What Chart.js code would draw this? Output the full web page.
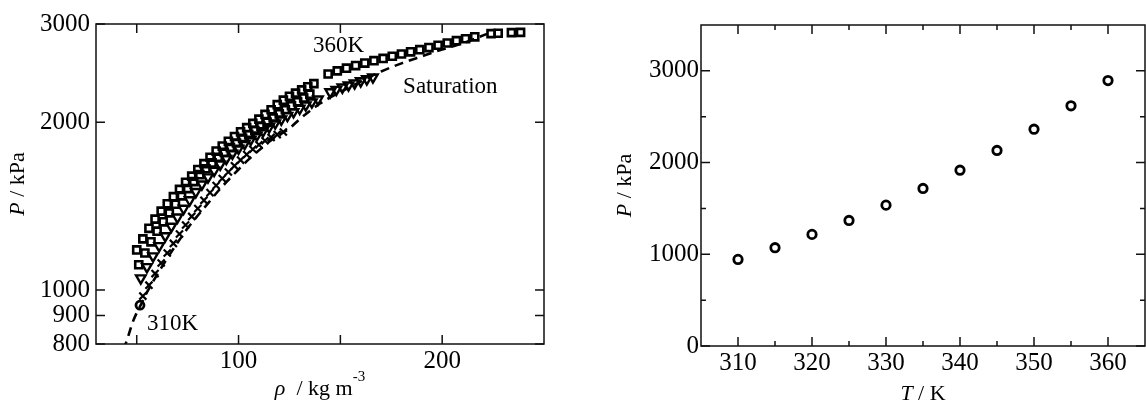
<!DOCTYPE html>
<html>
<head>
<meta charset="utf-8">
<script src="https://cdn.jsdelivr.net/npm/chart.js@4.4.1/dist/chart.umd.min.js"></script>
<style>
    html, body { margin: 0; padding: 0; background: #fff; overflow: hidden; }
    #wrap { position: relative; width: 1146px; height: 409px; }
    #left { position: absolute; left: 0; top: 0; width: 560px; height: 409px; }
    #right { position: absolute; left: 580px; top: 0; width: 566px; height: 409px; }
</style>
</head>
<body>
<div id="wrap">
    <div id="left"><canvas id="chart-rho"></canvas></div>
    <div id="right"><canvas id="chart-temp"></canvas></div>
</div>
<script>
// ---- left panel: P vs rho (kg m-3, kPa) ----
var sqRho1 = [50, 53, 56, 59, 62, 65, 68, 71, 74, 77, 80, 83, 86, 89, 92, 95, 98, 101, 104, 107, 110, 113, 116, 119, 122, 125, 128, 131, 134, 137];
var sqP1 = [1180, 1235, 1290, 1340, 1385, 1428, 1470, 1515, 1560, 1600, 1645, 1685, 1730, 1775, 1812, 1848, 1885, 1922, 1955, 1990, 2025, 2065, 2105, 2150, 2190, 2225, 2255, 2285, 2315, 2345];

var sqRho2 = [51, 54, 57, 60, 63, 66, 69, 72, 75, 78, 81, 84, 87, 90, 93, 96, 99, 102, 105, 108, 111, 114, 117, 120, 123, 126, 129, 132, 135];
var sqP2 = [1110, 1165, 1220, 1275, 1325, 1375, 1425, 1475, 1520, 1565, 1610, 1650, 1690, 1730, 1765, 1800, 1835, 1870, 1900, 1932, 1965, 2000, 2035, 2070, 2105, 2140, 2175, 2210, 2245];

var sqRho3 = [144, 148.5, 153, 157.5, 162, 166.5, 171, 175.5, 180, 184.5, 189, 193.5, 198, 202.5, 207, 211.5, 216, 224, 227.5, 234, 238.5];
var sqP3 = [2440, 2472, 2500, 2527, 2553, 2578, 2602, 2626, 2650, 2674, 2698, 2722, 2748, 2774, 2800, 2823, 2845, 2883, 2888, 2895, 2898];

var triRho = [52, 55, 58, 61, 64, 67, 70, 73, 76, 79, 82, 85, 88, 91, 94, 97, 100, 103, 106, 109, 112, 115, 118, 121, 124, 127, 130, 133, 136, 139,
              145, 148, 151, 154, 157, 160, 163, 166];
var triP = [1050, 1100, 1150, 1200, 1250, 1300, 1350, 1400, 1450, 1500, 1548, 1594, 1638, 1680, 1720, 1758, 1795, 1830, 1862, 1895, 1928, 1960, 1992, 2024, 2055, 2086, 2116, 2145, 2172, 2198,
            2265, 2288, 2310, 2330, 2350, 2370, 2390, 2408];

var crsRho = [53, 56, 59, 62, 65, 68, 71, 74, 77, 80, 83, 86, 89, 92, 95, 98, 101, 104, 107, 110, 113, 116, 119, 122];
var crsP = [975, 1020, 1070, 1118, 1165, 1212, 1260, 1308, 1355, 1400, 1448, 1495, 1540, 1585, 1628, 1670, 1710, 1750, 1788, 1822, 1852, 1878, 1900, 1920];

var circRho = [51.6];
var circP = [939];

var satRho = [43.5, 46, 48, 50, 52, 55, 60, 65, 70, 75, 80, 85, 90, 95, 100, 105, 110, 115, 120, 125, 130, 135, 140, 145, 150, 160, 170, 180, 190, 200, 210, 222];
var satP = [780, 830, 875, 910, 940, 990, 1065, 1140, 1215, 1290, 1360, 1430, 1505, 1575, 1645, 1715, 1780, 1845, 1900, 1950, 2025, 2095, 2160, 2215, 2265, 2365, 2465, 2550, 2625, 2700, 2770, 2880];

var rhoTicks = [100, 200];
var rhoMinor = [50, 150];
var pLogTicks = [800, 900, 1000, 2000, 3000];

// ---- right panel: P vs T ----
var temps = [310, 315, 320, 325, 330, 335, 340, 345, 350, 355, 360];
var pSat = [944, 1072, 1217, 1369, 1536, 1718, 1917, 2132, 2364, 2619, 2894];

var tTicks = [310, 320, 330, 340, 350, 360];
var tMinor = [315, 325, 335, 345, 355];
var pTicks = [0, 1000, 2000, 3000];
var pMinor = [500, 1500, 2500];

var FAMILY = '"Liberation Serif", "Times New Roman", serif';

function toPoints(xs, ys) {
    return xs.map(function(x, i) { return {x: x, y: ys[i]}; });
}

function fontOf(part, size) {
    return (part.italic ? 'italic ' : '') + (part.sup ? Math.round(size * 0.68) : size) + 'px ' + FAMILY;
}

// draw a line of text made of styled parts, centered on cx, baseline at by
function drawParts(ctx, parts, cx, by, size) {
    var w = 0;
    parts.forEach(function(p) {
        ctx.font = fontOf(p, size);
        p.w = ctx.measureText(p.t).width;
        w += p.w;
    });
    var x = cx - w / 2;
    parts.forEach(function(p) {
        ctx.font = fontOf(p, size);
        ctx.fillText(p.t, x, p.sup ? by - size * 0.62 : by);
        x += p.w;
    });
}

// fixed scale size, no extra room for label overflow
function fixSize(prop, size) {
    return function(s) {
        s[prop] = size;
        s.paddingLeft = 0;
        s.paddingRight = 0;
        s.paddingTop = 0;
        s.paddingBottom = 0;
    };
}

// frame round the plot area with inward ticks on all four sides
var axesBox = {
    id: 'axesBox',
    afterDraw: function(chart, args, opts) {
        var ctx = chart.ctx, a = chart.chartArea;
        var xs = chart.scales.x, ys = chart.scales.y;
        ctx.save();
        ctx.strokeStyle = '#111';
        ctx.lineWidth = 1.5;
        ctx.strokeRect(a.left, a.top, a.right - a.left, a.bottom - a.top);
        ctx.beginPath();
        function xTick(v, len) {
            var px = xs.getPixelForValue(v);
            ctx.moveTo(px, a.bottom); ctx.lineTo(px, a.bottom - len);
            ctx.moveTo(px, a.top); ctx.lineTo(px, a.top + len);
        }
        function yTick(v, len) {
            var py = ys.getPixelForValue(v);
            ctx.moveTo(a.left, py); ctx.lineTo(a.left + len, py);
            ctx.moveTo(a.right, py); ctx.lineTo(a.right - len, py);
        }
        opts.xMajor.forEach(function(v) { xTick(v, opts.major); });
        opts.xMinor.forEach(function(v) { xTick(v, opts.minor); });
        opts.yMajor.forEach(function(v) { yTick(v, opts.major); });
        opts.yMinor.forEach(function(v) { yTick(v, opts.minor); });
        ctx.stroke();
        ctx.restore();
    }
};

// axis titles with italic symbols and text notes placed by data value
var labels = {
    id: 'labels',
    afterDraw: function(chart, args, opts) {
        var ctx = chart.ctx, a = chart.chartArea;
        ctx.save();
        ctx.fillStyle = '#000';
        ctx.textBaseline = 'alphabetic';
        drawParts(ctx, opts.xTitle, (a.left + a.right) / 2, a.bottom + opts.xTitleGap, 22);
        ctx.save();
        ctx.translate(opts.yTitleX, (a.top + a.bottom) / 2);
        ctx.rotate(-Math.PI / 2);
        drawParts(ctx, opts.yTitle, 0, 0, 22);
        ctx.restore();
        ctx.font = '23px ' + FAMILY;
        ctx.textAlign = 'left';
        (opts.notes || []).forEach(function(n) {
            ctx.fillText(n.text, chart.scales.x.getPixelForValue(n.x), chart.scales.y.getPixelForValue(n.y));
        });
        ctx.restore();
    }
};

function markerSet(data, style, radius, width, rotation) {
    return {
        data: data,
        pointStyle: style,
        pointRadius: radius,
        pointHoverRadius: radius,
        pointBorderWidth: width,
        pointRotation: rotation || 0,
        borderColor: '#000',
        backgroundColor: 'rgba(0,0,0,0)',
        showLine: false,
        order: 1
    };
}

function tickFont() {
    return {family: FAMILY, size: 25};
}

new Chart(document.getElementById('chart-rho'), {
    type: 'scatter',
    data: {
        datasets: [
            {
                data: toPoints(satRho, satP),
                showLine: true,
                borderColor: '#000',
                borderWidth: 2.6,
                borderDash: [9, 6],
                pointRadius: 0,
                cubicInterpolationMode: 'monotone',
                order: 5
            },
            markerSet(toPoints(crsRho, crsP), 'crossRot', 5, 2.2),
            markerSet(toPoints(triRho, triP), 'triangle', 5.5, 2.4, 180),
            markerSet(toPoints(sqRho2, sqP2), 'rect', 5, 2.6),
            markerSet(toPoints(sqRho1, sqP1), 'rect', 5, 2.6),
            markerSet(toPoints(sqRho3, sqP3), 'rect', 5, 2.6),
            markerSet(toPoints(circRho, circP), 'circle', 4, 2.8)
        ]
    },
    options: {
        responsive: true,
        maintainAspectRatio: false,
        animation: false,
        layout: {autoPadding: false, padding: {top: 24, right: 16, left: 0, bottom: 0}},
        plugins: {
            legend: {display: false},
            tooltip: {enabled: false},
            axesBox: {xMajor: rhoTicks, xMinor: rhoMinor, yMajor: pLogTicks, yMinor: [], major: 9, minor: 9},
            labels: {
                xTitle: [{t: 'ρ', italic: true}, {t: '  / kg m'}, {t: '-3', sup: true}],
                xTitleGap: 51,
                yTitle: [{t: 'P', italic: true}, {t: ' / kPa'}],
                yTitleX: 24,
                notes: [
                    {text: '310K', x: 55, y: 847},
                    {text: '360K', x: 136.6, y: 2673},
                    {text: 'Saturation', x: 180.8, y: 2255}
                ]
            }
        },
        scales: {
            x: {
                type: 'linear',
                min: 30,
                max: 250,
                afterBuildTicks: function(s) { s.ticks = rhoTicks.map(function(v) { return {value: v}; }); },
                afterFit: fixSize('height', 65),
                grid: {display: false, drawTicks: false},
                border: {display: false},
                ticks: {font: tickFont(), color: '#000', padding: 2, maxRotation: 0}
            },
            y: {
                type: 'logarithmic',
                min: 800,
                max: 3000,
                afterBuildTicks: function(s) { s.ticks = pLogTicks.map(function(v) { return {value: v}; }); },
                afterFit: fixSize('width', 96),
                grid: {display: false, drawTicks: false},
                border: {display: false},
                ticks: {font: tickFont(), color: '#000', padding: 6, callback: function(v) { return String(v); }}
            }
        }
    },
    plugins: [axesBox, labels]
});

new Chart(document.getElementById('chart-temp'), {
    type: 'scatter',
    data: {
        datasets: [markerSet(toPoints(temps, pSat), 'circle', 4.2, 2.8)]
    },
    options: {
        responsive: true,
        maintainAspectRatio: false,
        animation: false,
        layout: {autoPadding: false, padding: {top: 25, right: 1, left: 0, bottom: 0}},
        plugins: {
            legend: {display: false},
            tooltip: {enabled: false},
            axesBox: {xMajor: tTicks, xMinor: tMinor, yMajor: pTicks, yMinor: pMinor, major: 9, minor: 5},
            labels: {
                xTitle: [{t: 'T', italic: true}, {t: ' / K'}],
                xTitleGap: 54,
                yTitle: [{t: 'P', italic: true}, {t: ' / kPa'}],
                yTitleX: 51
            }
        },
        scales: {
            x: {
                type: 'linear',
                min: 305,
                max: 365,
                afterBuildTicks: function(s) { s.ticks = tTicks.map(function(v) { return {value: v}; }); },
                afterFit: fixSize('height', 63),
                grid: {display: false, drawTicks: false},
                border: {display: false},
                ticks: {font: tickFont(), color: '#000', padding: 2, maxRotation: 0}
            },
            y: {
                type: 'linear',
                min: 0,
                max: 3500,
                afterBuildTicks: function(s) { s.ticks = pTicks.map(function(v) { return {value: v}; }); },
                afterFit: fixSize('width', 121),
                grid: {display: false, drawTicks: false},
                border: {display: false},
                ticks: {font: tickFont(), color: '#000', padding: 2, callback: function(v) { return String(v); }}
            }
        }
    },
    plugins: [axesBox, labels]
});
</script>
</body>
</html>
